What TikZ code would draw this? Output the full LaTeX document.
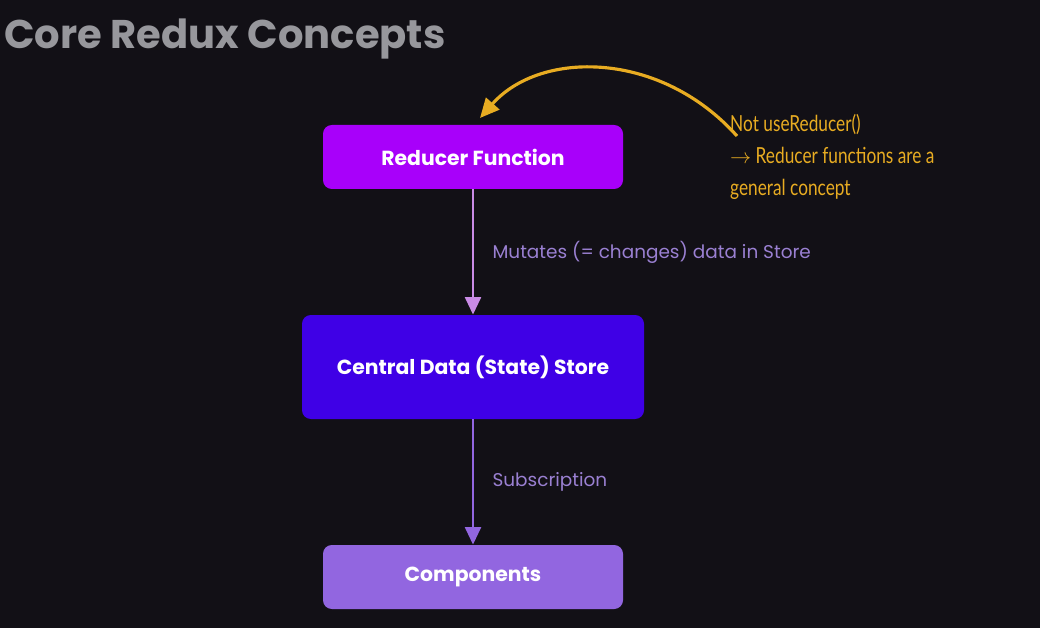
\documentclass[tikz,border=0pt]{standalone}
\usepackage{fontspec}
\setmainfont{Poppins}
\newfontfamily\handfont[FakeStretch=0.78]{Lato}
\usepackage{tikz}
\usetikzlibrary{arrows.meta}

\definecolor{bgdark}{HTML}{121016}
\definecolor{titlegray}{HTML}{97979C}
\definecolor{reducer}{HTML}{A800FA}
\definecolor{store}{HTML}{3F00E6}
\definecolor{comps}{HTML}{9266E0}
\definecolor{arrowone}{HTML}{C98BE6}
\definecolor{arrowtwo}{HTML}{9266E0}
\definecolor{labelpurple}{HTML}{9A80D2}
\definecolor{notegold}{HTML}{E8AC22}

\begin{document}
\begin{tikzpicture}[x=0.02cm, y=-0.02cm,
    box/.style={rounded corners=5pt, text=white, font=\fontsize{11.6}{13}\selectfont\bfseries, align=center},
    flow/.style={line width=1.6pt, -{Triangle[length=10pt, width=9pt]}},
    flowlabel/.style={anchor=west, text=labelpurple, font=\fontsize{10.5}{13}\selectfont},
    note/.style={anchor=west, text=notegold, font=\handfont\fontsize{12.6}{18.2}\selectfont, align=left}]
    \fill[bgdark] (0,0) rectangle (1040,628);
    \useasboundingbox (0,0) rectangle (1040,628);

    \node[anchor=base west, text=titlegray, font=\fontsize{22.8}{28}\selectfont\bfseries, inner sep=0pt]
        (title) at (4,49) {Core Redux Concepts};

    \node[box, fill=reducer, minimum width=300*0.02cm, minimum height=64*0.02cm] (red) at (473,157) {Reducer Function};
    \node[box, fill=store, minimum width=342*0.02cm, minimum height=104*0.02cm] (sto) at (473,367) {Central Data (State) Store};
    \node[box, fill=comps, minimum width=300*0.02cm, minimum height=64*0.02cm] (com) at (473,577) {Components};

    \draw[flow, arrowone] (red) -- (sto)
        node[flowlabel, pos=0.5, xshift=7pt] (mut) {Mutates (= changes) data in Store};
    \draw[flow, arrowtwo] (sto) -- (com)
        node[flowlabel, pos=0.5, xshift=7pt] (sub) {Subscription};

    % side remark about useReducer
    \node[note] (rem) at (724,157) {Not useReducer()\\$\rightarrow$ Reducer functions are a\\general concept};
    \coordinate (remtop) at (737,136);
    \coordinate (redtop) at (480,118);
    \draw[notegold, line width=1.8pt, -{Triangle[length=11pt, width=10pt]}]
        (remtop) .. controls (660,50) and (540,50) .. (redtop);
\end{tikzpicture}
\end{document}
